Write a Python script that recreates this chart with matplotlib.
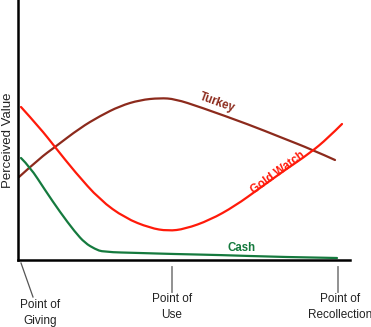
import matplotlib
matplotlib.use("Agg")
import matplotlib.pyplot as plt
from matplotlib.path import Path
from matplotlib.patches import PathPatch

plt.rcParams['font.family'] = ['Liberation Sans', 'DejaVu Sans']

# curves (x: time, y: perceived value)
turkey_x = [1, 22, 37, 62, 82, 102, 122, 142, 157, 182, 232, 262, 295, 317]
turkey_y = [83, 102, 113, 132, 144, 154, 160, 162, 161, 153, 135, 123, 110, 100]

watch_x = [3, 22, 37, 57, 82, 107, 132, 150, 167, 192, 217, 242, 267, 292, 310, 324]
watch_y = [153, 132, 113, 88, 60, 42, 32, 29, 31, 40, 54, 72, 90, 107, 122, 136]

cash_x = [3, 12, 27, 42, 57, 67, 77, 85, 122, 155, 202, 262, 319]
cash_y = [102, 93, 70, 48, 28, 17, 11, 8, 7, 6, 5, 3, 2]

stage_x = [3, 154, 320]
stage_labels = ['Point of\nGiving', 'Point of\nUse', 'Point of\nRecollection']


def smooth_path(xs, ys):
    # quadratic bezier through midpoints, drawn by matplotlib
    pts = list(zip(xs, ys))
    verts = [pts[0]]
    codes = [Path.MOVETO]
    for i in range(1, len(pts) - 1):
        mid = ((pts[i][0] + pts[i + 1][0]) / 2, (pts[i][1] + pts[i + 1][1]) / 2)
        if i == len(pts) - 2:
            mid = pts[-1]
        verts += [pts[i], mid]
        codes += [Path.CURVE3, Path.CURVE3]
    return Path(verts, codes)


fig = plt.figure(figsize=(3.71, 3.27), dpi=100)
ax = fig.add_axes([18 / 371, 67 / 327, 332 / 371, 260 / 327])
ax.set_xlim(0, 332)
ax.set_ylim(0, 260)

for xs, ys, col in [(turkey_x, turkey_y, '#8c2a1c'),
                    (watch_x, watch_y, '#ff1a0a'),
                    (cash_x, cash_y, '#157a3e')]:
    ax.add_patch(PathPatch(smooth_path(xs, ys), fill=False, edgecolor=col,
                           lw=1.6, capstyle='round'))

ax.text(199, 157, 'Turkey', color='#8c2a1c', fontsize=8.3, fontweight='bold',
        rotation=-20, ha='center', va='center')
ax.text(260, 87, 'Gold Watch', color='#ff1a0a', fontsize=8.3, fontweight='bold',
        rotation=36, ha='center', va='center')
ax.text(224, 12, 'Cash', color='#157a3e', fontsize=8.3, fontweight='bold',
        ha='center', va='center')

for s in ['top', 'right']:
    ax.spines[s].set_visible(False)
for s in ['left', 'bottom']:
    ax.spines[s].set_linewidth(1.8)
    ax.spines[s].set_color('black')
ax.set_xticks([])
ax.set_yticks([])
ax.set_ylabel('Perceived Value', fontsize=9.5, color='#222222')
ax.yaxis.set_label_coords(-0.013, 0.46)

# stage markers under the axis
ax.plot([stage_x[0], stage_x[0] + 12], [-3, -37], color='#555555', lw=0.9, clip_on=False)
for sx in stage_x[1:]:
    ax.plot([sx, sx], [-7, -32], color='#888888', lw=1.3, clip_on=False)
ax.text(stage_x[0] + 19, -53, stage_labels[0], fontsize=8.5, color='#222222',
        ha='center', va='center', linespacing=1.5)
ax.text(stage_x[1], -47, stage_labels[1], fontsize=8.5, color='#222222',
        ha='center', va='center', linespacing=1.5)
ax.text(stage_x[2] + 2, -47, stage_labels[2], fontsize=8.5, color='#222222',
        ha='center', va='center', linespacing=1.5)

fig.savefig('out.png', dpi=100)
